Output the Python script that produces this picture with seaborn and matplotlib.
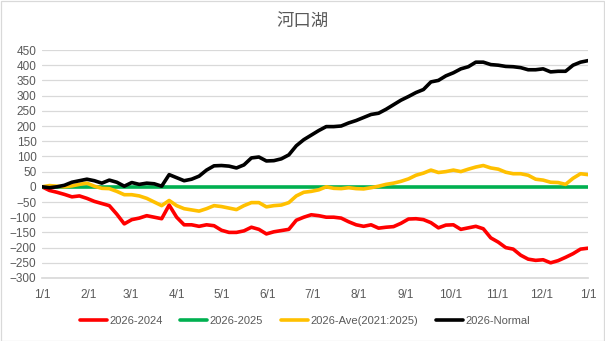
import numpy as np
import pandas as pd
import matplotlib
matplotlib.use("Agg")
import matplotlib.pyplot as plt
import seaborn as sns
from matplotlib.patches import Rectangle

title = "河口湖"
days = list(range(0, 366, 5))
days[-1] = 365

s_2024 = [0, -12, -18, -25, -33, -30, -38, -48, -55, -62, -90, -122, -108, -103, -95, -100,
          -105, -60, -100, -125, -125, -130, -125, -128, -143, -150, -150, -145, -133, -140,
          -155, -148, -144, -140, -110, -100, -92, -95, -100, -100, -103, -115, -125, -130,
          -125, -136, -133, -131, -120, -106, -105, -108, -118, -135, -126, -125, -140, -135,
          -130, -138, -168, -182, -200, -205, -225, -238, -242, -240, -250, -243, -232, -220,
          -205, -202]
s_2025 = [0] * 74
s_ave = [0, 4, 2, 0, 3, 8, 12, 2, -5, -6, -15, -26, -26, -30, -38, -50, -62, -45, -62, -72,
         -76, -80, -72, -62, -65, -70, -75, -62, -52, -52, -66, -62, -60, -52, -30, -18, -15,
         -10, 0, -5, -6, -3, -6, -7, -3, 2, 8, 12, 18, 26, 38, 45, 55, 47, 50, 55, 50, 58, 65,
         70, 62, 58, 48, 43, 43, 38, 25, 22, 15, 14, 8, 28, 43, 40]
s_normal = [0, -3, 0, 5, 15, 20, 25, 20, 12, 22, 15, 2, 14, 8, 12, 10, 2, 40, 30, 20, 25, 35,
            55, 69, 70, 68, 62, 72, 95, 98, 85, 86, 92, 105, 135, 155, 170, 185, 198, 198, 200,
            210, 218, 228, 238, 242, 255, 270, 285, 297, 310, 320, 345, 350, 365, 375, 388, 395,
            410, 410, 402, 400, 396, 395, 392, 385, 385, 388, 378, 380, 380, 400, 410, 415]

series_names = ["2026-2024", "2026-2025", "2026-Ave(2021:2025)", "2026-Normal"]
series_colors = ["#FF0000", "#00B050", "#FFC000", "#000000"]
tick_days = [0, 31, 59, 90, 120, 151, 181, 212, 243, 273, 304, 334, 365]
tick_labels = ["1/1", "2/1", "3/1", "4/1", "5/1", "6/1", "7/1", "8/1", "9/1", "10/1",
               "11/1", "12/1", "1/1"]

frames = []
for name, vals in zip(series_names, [s_2024, s_2025, s_ave, s_normal]):
    frames.append(pd.DataFrame({"day": days, "value": vals, "series": name}))
df = pd.concat(frames, ignore_index=True)

sns.set_theme(style="white")
plt.rcParams["font.family"] = ["Liberation Sans", "Noto Sans CJK JP", "DejaVu Sans"]

fig = plt.figure(figsize=(6.05, 3.41), dpi=100)
ax = fig.add_axes([42 / 605, 1 - 278 / 341, (588 - 42) / 605, (278 - 50) / 341])

sns.lineplot(data=df, x="day", y="value", hue="series", hue_order=series_names,
             palette=dict(zip(series_names, series_colors)), linewidth=2.6, ax=ax,
             legend=True)

ax.set_xlim(0, 365)
ax.set_ylim(-300, 450)
ax.set_yticks(np.arange(-300, 451, 50))
ax.set_xticks(tick_days)
ax.set_xticklabels(tick_labels)
ax.yaxis.grid(True, color="#D9D9D9", linewidth=0.9)
ax.set_axisbelow(True)
for side in ["top", "right", "left"]:
    ax.spines[side].set_visible(False)
ax.spines["bottom"].set_color("#D9D9D9")
ax.tick_params(axis="x", colors="#D9D9D9", length=4, width=0.9, direction="out",
               labelcolor="#595959", labelsize=8.5, pad=4)
ax.tick_params(axis="y", length=0, labelcolor="#595959", labelsize=8.5, pad=4)
ax.set_xlabel("")
ax.set_ylabel("")

fig.text(303 / 605, 1 - 22 / 341, title, ha="center", va="center", fontsize=12.5,
         color="#595959", family=["Noto Sans CJK JP", "DejaVu Sans"])

handles, labels = ax.get_legend_handles_labels()
ax.legend_.remove()
fig.legend(handles, labels, loc="center", bbox_to_anchor=(305 / 605, 1 - 321 / 341),
           ncol=4, frameon=False, fontsize=8, labelcolor="#595959", handlelength=2.4,
           handletextpad=0.25, columnspacing=1.6)

fig.patches.append(Rectangle((0.5 / 605, 0.5 / 341), 1 - 1.5 / 605, 1 - 1.5 / 341,
                             transform=fig.transFigure, fill=False, edgecolor="#D9D9D9",
                             linewidth=0.9))

fig.savefig("out.png", dpi=100)
